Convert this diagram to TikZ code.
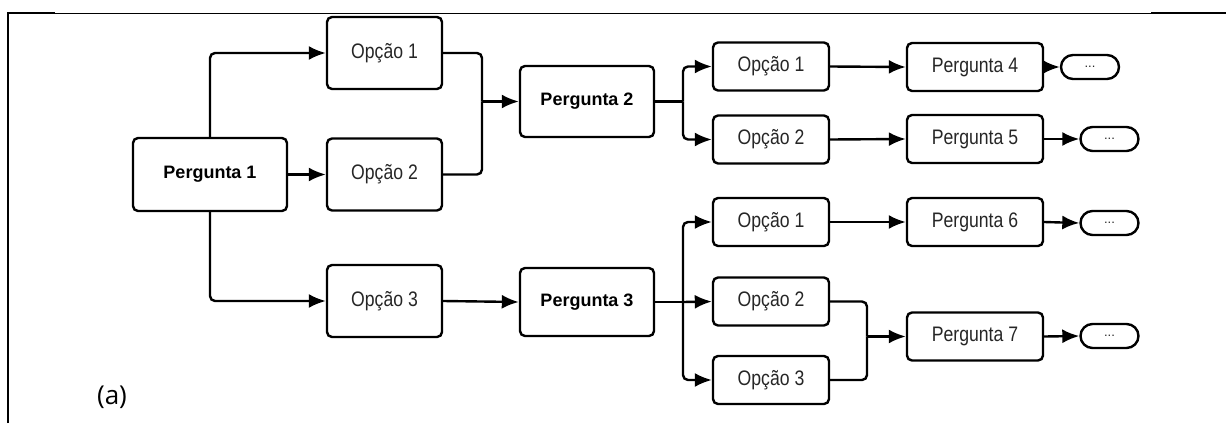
\documentclass[tikz,border=0pt]{standalone}
\usepackage{fontspec}
\setmainfont{Liberation Sans}
\newfontfamily\narrowfont[FakeStretch=0.84]{Liberation Sans}
\newfontfamily\labelfont{Open Sans}
\usetikzlibrary{arrows.meta}

\begin{document}
\begin{tikzpicture}[x=0.5pt,y=-0.5pt,
    qbox/.style={draw, line width=1.2pt, rounded corners=2.5pt, align=center, inner sep=0pt, font=\fontsize{9}{11}\selectfont\bfseries},
    obox/.style={draw, line width=1.2pt, rounded corners=2.5pt, align=center, inner sep=0pt, text=black!85, font=\narrowfont\fontsize{10.5}{12}\selectfont},
    endbox/.style={draw, line width=1.2pt, rounded corners=6pt, minimum width=29pt, minimum height=12pt, inner sep=0pt, text=black!85, font=\fontsize{6.5}{7}\selectfont},
    conn/.style={line width=1.2pt, rounded corners=2.5pt},
    arr/.style={conn, -{Latex[length=8.5pt,width=7pt]}}]
  \useasboundingbox (0,0) rectangle (1226,423);
  % frame
  \draw [line width=1.2pt] (8,423) -- (8,13) -- (55,13);
  \draw [line width=0.5pt] (55,13) -- (1151,13);
  \draw [line width=1.2pt] (1151,13) -- (1226,13);
  \node [font=\labelfont\fontsize{13}{15}\selectfont] (lbl) at (112,397) {(a)};
  % first level
  \node [qbox, minimum width=77pt, minimum height=36.5pt] (p1) at (210,174.5) {Pergunta 1};
  \node [obox, minimum width=57.5pt, minimum height=36pt] (o1a) at (384.5,53) {Opção 1};
  \node [obox, minimum width=57.5pt, minimum height=36pt] (o2a) at (384.5,174.5) {Opção 2};
  \node [obox, minimum width=57.5pt, minimum height=36pt] (o3a) at (384.5,301) {Opção 3};
  % second level
  \node [qbox, minimum width=67pt, minimum height=35.5pt] (p2) at (587,101.5) {Pergunta 2};
  \node [qbox, minimum width=67pt, minimum height=34pt] (p3) at (587,302) {Pergunta 3};
  \node [obox, minimum width=58pt, minimum height=24pt] (o1b) at (771,66.5) {Opção 1};
  \node [obox, minimum width=58pt, minimum height=24pt] (o2b) at (771,139.5) {Opção 2};
  \node [obox, minimum width=58pt, minimum height=24pt] (o1c) at (771,222) {Opção 1};
  \node [obox, minimum width=58pt, minimum height=24pt] (o2c) at (771,301.5) {Opção 2};
  \node [obox, minimum width=58pt, minimum height=24pt] (o3c) at (771,380) {Opção 3};
  % third level
  \node [obox, minimum width=68pt, minimum height=24pt] (p4) at (975,67) {Pergunta 4};
  \node [obox, minimum width=68pt, minimum height=24pt] (p5) at (975,139) {Pergunta 5};
  \node [obox, minimum width=68pt, minimum height=24pt] (p6) at (975,222) {Pergunta 6};
  \node [obox, minimum width=68pt, minimum height=24pt] (p7) at (975,336.5) {Pergunta 7};
  \node [endbox] (e4) at (1090,67) {...};
  \node [endbox] (e5) at (1109.5,139) {...};
  \node [endbox] (e6) at (1109.5,223) {...};
  \node [endbox] (e7) at (1109.5,336) {...};
  % joins
  \coordinate (m2) at (482,101.5);
  \coordinate (s2) at (683,101.5);
  \coordinate (s3) at (683,302);
  \coordinate (m7) at (867,336.5);
  % connectors
  \draw [arr] (p1.north) |- (o1a.west);
  \draw [arr] (p1.east) -- (o2a.west);
  \draw [arr] (p1.south) |- (o3a.west);
  \draw [conn] (o1a.east) -| (m2);
  \draw [conn] (o2a.east) -| (m2);
  \draw [arr] (m2) -- (p2.west);
  \draw [arr] (o3a.east) -- (p3.west);
  \draw [conn] (p2.east) -- (s2);
  \draw [arr] (s2) |- (o1b.west);
  \draw [arr] (s2) |- (o2b.west);
  \draw [conn] (p3.east) -- (s3);
  \draw [arr] (s3) |- (o1c.west);
  \draw [arr] (s3) -- (o2c.west);
  \draw [arr] (s3) |- (o3c.west);
  \draw [arr] (o1b.east) -- (p4.west);
  \draw [arr] (o2b.east) -- (p5.west);
  \draw [arr] (o1c.east) -- (p6.west);
  \draw [conn] (o2c.east) -| (m7);
  \draw [conn] (o3c.east) -| (m7);
  \draw [arr] (m7) -- (p7.west);
  \draw [arr] (p4.east) -- (e4.west);
  \draw [arr] (p5.east) -- (e5.west);
  \draw [arr] (p6.east) -- (e6.west);
  \draw [arr] (p7.east) -- (e7.west);
\end{tikzpicture}
\end{document}
